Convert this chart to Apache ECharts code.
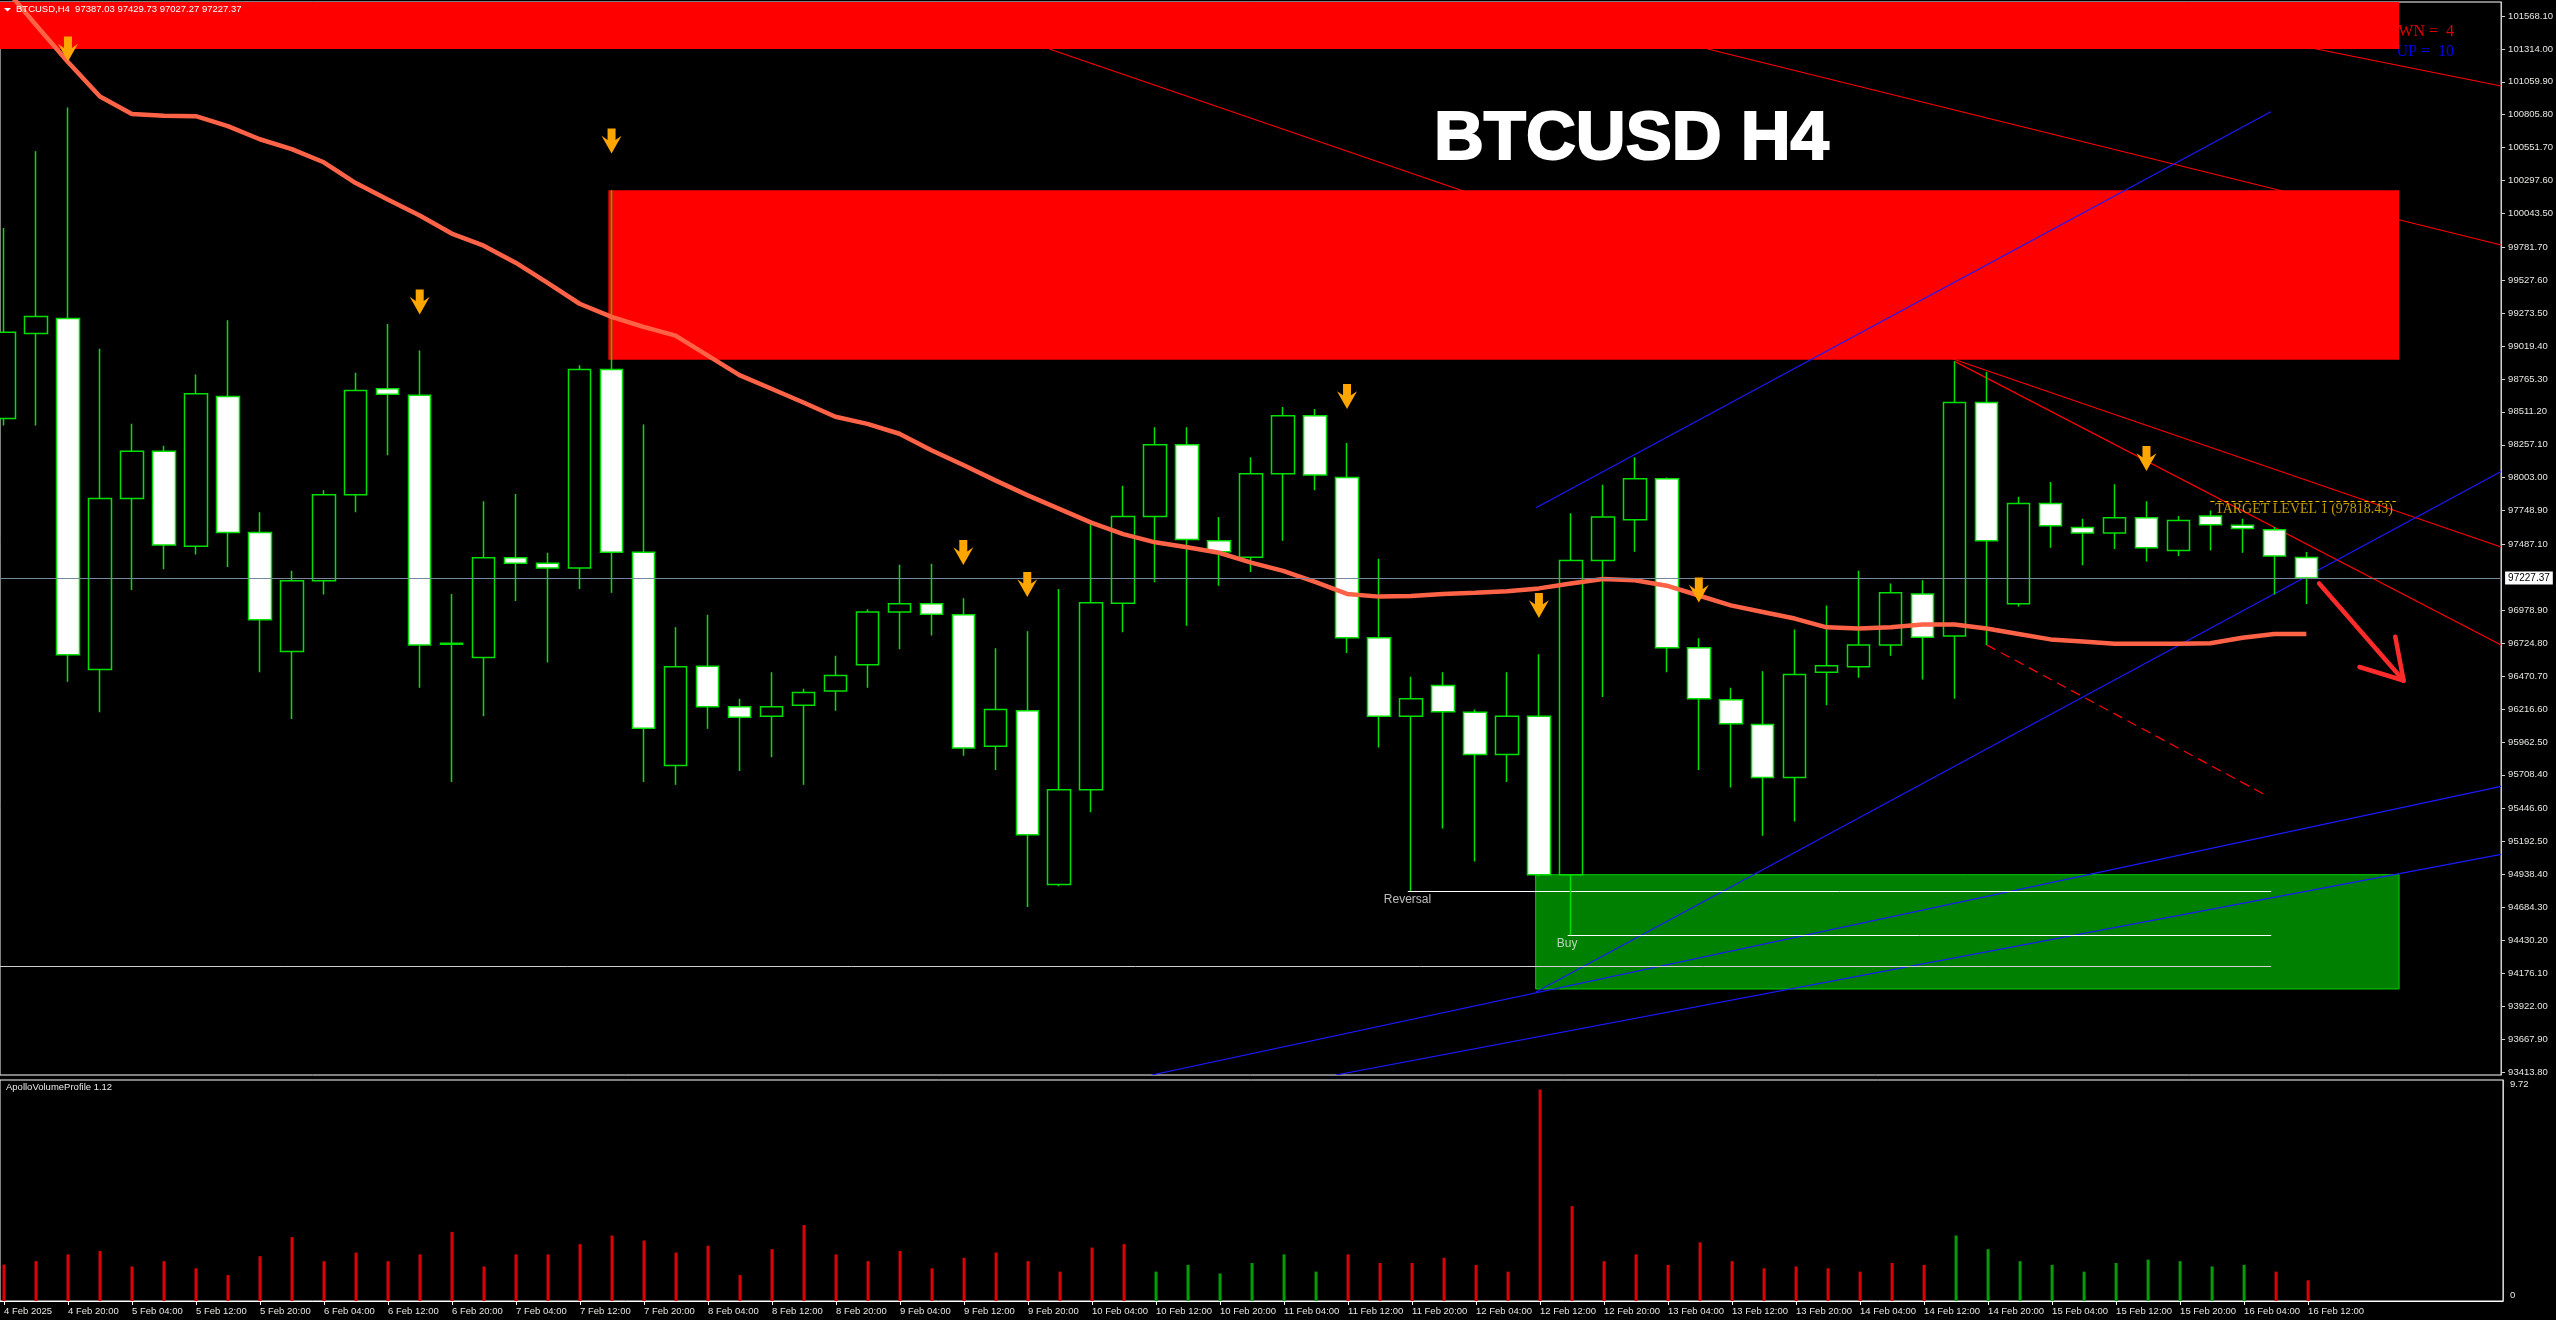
<!DOCTYPE html>
<html>
<head>
<meta charset="utf-8">
<script src="https://cdn.jsdelivr.net/npm/echarts@6/dist/echarts.min.js"></script>
<style>
html,body{margin:0;padding:0;background:#000;}
#c{width:2556px;height:1320px;}
</style>
</head>
<body>
<div id="c"></div>
<script>
// ---------- DATA ----------
// candle index 0 = 4 Feb 2025 12:00, one candle per 4 hours
const openP = [98460.8, 99117.2, 99231.6, 96521.2, 97842.5, 98206.7, 97474.0, 98630.2, 97579.9, 96660.9,
  97207.2, 97872.1, 98689.5, 98638.7, 96716.0, 96614.3, 97385.1, 97342.8, 97304.6, 98837.7,
  97427.5, 95780.0, 96546.6, 96233.2, 96161.2, 96245.9, 96356.0, 96559.3, 96965.8, 97029.4,
  96944.7, 95928.3, 96203.5, 94861.1, 95593.7, 97033.6, 97702.7, 98257.5, 97516.4, 97389.3,
  98033.1, 98482.0, 98003.4, 96766.8, 96161.2, 96398.4, 96190.8, 95864.8, 96161.2, 94937.3,
  97363.9, 97677.3, 97995.0, 96690.6, 96288.2, 96097.7, 95686.9, 96500.0, 96542.3, 96711.8,
  97105.6, 96779.5, 98583.6, 97029.4, 97804.4, 97618.0, 97575.7, 97694.3, 97440.2, 97707.0,
  97635.0, 97601.1, 97387.03];
const highP = [99930.3, 100523.3, 100862.0, 98998.6, 98418.5, 98249.1, 98799.6, 99218.9, 97736.6, 97283.5,
  97906.0, 98812.3, 99189.2, 98985.9, 97105.6, 97821.3, 97876.4, 97423.2, 98871.6, 100222.6,
  98414.2, 96847.3, 96944.7, 96296.7, 96500.0, 96372.9, 96627.0, 96987.0, 97330.1, 97338.5,
  97071.8, 96686.3, 96817.6, 97143.7, 97651.9, 97939.9, 98393.0, 98393.0, 97698.5, 98160.1,
  98549.7, 98532.8, 98270.2, 97376.6, 96466.1, 96500.0, 96212.0, 96500.0, 96639.8, 97728.1,
  97948.4, 98160.1, 98003.4, 96762.6, 96381.4, 96508.5, 96830.3, 97016.7, 97283.5, 97186.1,
  97211.5, 98901.2, 98820.8, 97855.2, 97969.5, 97685.8, 97952.6, 97821.3, 97707.0, 97749.3,
  97685.8, 97622.3, 97429.73];
const lowP = [98405.8, 98405.8, 96428.0, 96190.8, 97135.2, 97296.2, 97410.5, 97313.1, 96500.0, 96140.0,
  97101.4, 97736.6, 98177.1, 96381.4, 95653.0, 96161.2, 97050.5, 96576.2, 97143.7, 97114.1,
  95653.0, 95631.8, 96063.8, 95737.7, 95843.6, 95631.8, 96203.5, 96381.4, 96677.9, 96783.8,
  95856.3, 95746.2, 94687.4, 94848.3, 95420.1, 96809.2, 97194.5, 96860.0, 97169.1, 97275.0,
  97516.4, 97906.0, 96648.2, 95919.8, 94811.0, 95293.0, 95038.9, 95653.0, 94924.6, 94472.0,
  96309.4, 97431.7, 96500.0, 95746.2, 95610.6, 95238.0, 95348.1, 96245.9, 96457.6, 96627.0,
  96444.9, 96296.7, 96711.8, 97008.2, 97461.3, 97325.8, 97452.9, 97355.5, 97397.8, 97440.2,
  97423.2, 97101.4, 97027.27];
const closeP = [99125.7, 99248.5, 96635.5, 97842.5, 98206.7, 97482.5, 98651.4, 97579.9, 96906.6, 97207.2,
  97872.1, 98676.8, 98647.1, 96711.8, 96724.5, 97385.1, 97342.8, 97304.6, 98837.7, 97427.5,
  96068.0, 96542.3, 96233.2, 96152.7, 96233.2, 96343.3, 96474.6, 96965.8, 97029.4, 96948.9,
  95915.6, 96212.0, 95246.4, 95593.7, 97037.8, 97702.7, 98257.5, 97524.9, 97431.7, 98033.1,
  98482.0, 98024.6, 96766.8, 96161.2, 96296.7, 96195.1, 95864.8, 96161.2, 94937.3, 97363.9,
  97698.5, 97995.0, 96690.6, 96296.7, 96101.9, 95686.9, 96483.1, 96550.8, 96711.8, 97114.1,
  96771.0, 98583.6, 97516.4, 97804.4, 97630.8, 97575.7, 97694.3, 97461.3, 97673.1, 97639.2,
  97609.6, 97397.8, 97227.37];
const maValues = [101792, 101498.6, 101212.8, 100946.7, 100811.2, 100798.5, 100794.3, 100718.1, 100616.4, 100540.2,
  100438.6, 100277.6, 100150.6, 100027.8, 99888.0, 99794.8, 99663.5, 99506.9, 99346.0, 99244.3,
  99168.1, 99100.3, 98947.9, 98795.4, 98689.5, 98583.6, 98473.5, 98418.5, 98342.3, 98215.2,
  98100.9, 97982.3, 97868.0, 97762.1, 97656.2, 97567.4, 97503.8, 97465.6, 97423.2, 97347.0,
  97283.5, 97198.8, 97105.6, 97084.5, 97088.7, 97105.6, 97114.1, 97126.8, 97148.0, 97186.1,
  97219.9, 97211.5, 97169.1, 97093.0, 97016.7, 96966.0, 96915.1, 96847.3, 96838.8, 96847.3,
  96868.6, 96868.6, 96838.8, 96796.5, 96754.1, 96737.2, 96720.3, 96720.3, 96720.3, 96724.5,
  96766.8, 96796.5, 96796.5];
const volumes = [1.6, 1.75, 2.05, 2.2, 1.52, 1.75, 1.44, 1.14, 1.97, 2.81,
  1.75, 2.13, 1.75, 2.05, 3.04, 1.52, 2.05, 2.05, 2.5, 2.88,
  2.66, 2.13, 2.43, 1.14, 2.28, 3.34, 2.05, 1.75, 2.2, 1.44,
  1.9, 2.13, 1.75, 1.29, 2.35, 2.5, 1.29, 1.59, 1.21, 1.67,
  2.05, 1.29, 2.05, 1.67, 1.67, 1.9, 1.59, 1.29, 9.3, 4.17,
  1.75, 2.05, 1.59, 2.58, 1.75, 1.44, 1.52, 1.44, 1.29, 1.67,
  1.59, 2.88, 2.28, 1.75, 1.59, 1.29, 1.67, 1.82, 1.75, 1.52,
  1.59, 1.29, 0.91];
// +1 = green volume bar, -1 = red volume bar
const volumeSide = [-1,-1,-1,-1,-1,-1,-1,-1,-1,-1, -1,-1,-1,-1,-1,-1,-1,-1,-1,-1,
  -1,-1,-1,-1,-1,-1,-1,-1,-1,-1, -1,-1,-1,-1,-1,-1, 1,1,1,1, 1,1,
  -1,-1,-1,-1,-1,-1,-1,-1,-1,-1, -1,-1,-1,-1,-1,-1,-1,-1,-1,
  1,1,1,1,1,1,1,1,1,1, -1,-1];
const xTickIndex = [0,2,4,6,8,10,12,14,16,18,20,22,24,26,28,30,32,34,36,38,40,42,44,46,48,50,52,54,56,58,60,62,64,66,68,70,72];
const xTickLabels = ['4 Feb 2025','4 Feb 20:00','5 Feb 04:00','5 Feb 12:00','5 Feb 20:00','6 Feb 04:00','6 Feb 12:00','6 Feb 20:00',
  '7 Feb 04:00','7 Feb 12:00','7 Feb 20:00','8 Feb 04:00','8 Feb 12:00','8 Feb 20:00','9 Feb 04:00','9 Feb 12:00','9 Feb 20:00',
  '10 Feb 04:00','10 Feb 12:00','10 Feb 20:00','11 Feb 04:00','11 Feb 12:00','11 Feb 20:00','12 Feb 04:00','12 Feb 12:00','12 Feb 20:00',
  '13 Feb 04:00','13 Feb 12:00','13 Feb 20:00','14 Feb 04:00','14 Feb 12:00','14 Feb 20:00','15 Feb 04:00','15 Feb 12:00','15 Feb 20:00',
  '16 Feb 04:00','16 Feb 12:00'];
const priceTicks = [101568.10, 101314.00, 101059.90, 100805.80, 100551.70, 100297.60, 100043.50, 99781.70, 99527.60, 99273.50,
  99019.40, 98765.30, 98511.20, 98257.10, 98003.00, 97748.90, 97487.10, 96978.90, 96724.80, 96470.70, 96216.60,
  95962.50, 95708.40, 95446.60, 95192.50, 94938.40, 94684.30, 94430.20, 94176.10, 93922.00, 93667.90, 93413.80];
const volumeTicks = [0, 9.72];
const currentPrice = 97227.37;
const targetPrice = 97818.43;
const sellArrowIdx = [2, 13, 19, 30, 32, 42, 48, 53, 67];
const sellArrowPrice = [101313, 99359.6, 100602.8, 97425, 97178, 98630.6, 97016.7, 97135, 98151.8];
// zones: [xStart, xEnd, priceLow, priceHigh]
const zoneTopRed = [-0.125, 74.9, 101313.2, 101676.2];
const zoneSupply = [18.9, 74.9, 98913.0, 100222.6];
const zoneDemand = [47.9, 74.9, 94054.6, 94937.2];
// drawn lines: [[x1, price1], [x2, price2]]
const redLines = [
  [[64.97, 101676.2], [78.09, 101027.5]],
  [[32.69, 101313.2], [78.09, 97467.6]],
  [[61.0, 98901.2], [78.09, 96710.9]],
  [[53.28, 101313.2], [78.09, 99799.7]]
];
const redDashedLine = [[62.0, 96711.8], [70.78, 95544.9]];
const blueLines = [
  [[47.91, 97770.3], [70.89, 100828.3]],
  [[47.91, 94031.3], [78.09, 98051.4]],
  [[35.89, 93390.4], [78.09, 95618.9]],
  [[41.65, 93390.4], [78.09, 95094.7]]
];
const reversalLine = [[43.9, 94811.0], [70.9, 94811.0]];
const buyLine = [[48.9, 94472.0], [70.9, 94472.0]];
const lowLevelLine = [[-0.125, 94229.0], [70.9, 94229.0]];
const targetLine = [[69.0, targetPrice], [74.8, targetPrice]];
const redArrow = [
  [[72.4, 97185.8], [75.04, 96436.8]],
  [[73.66, 96541.0], [75.04, 96436.8]],
  [[74.78, 96775.0], [75.04, 96436.8]]
];
const annotations = [
  {name: 'Reversal', at: [43.15, 94811.0]},
  {name: 'Buy', at: [48.56, 94472.0]}
];

// ---------- CHART ----------
const X_MIN = -0.125, X_MAX = 78.09;
const Y_MIN = 93390.4, Y_MAX = 101676.2;
const FONT = '"Liberation Sans", Arial, sans-serif';
const SERIF = '"Liberation Serif", "Times New Roman", serif';
const AX = '#e6e6e0';

const candleData = openP.map((o, i) => [i, o, closeP[i], lowP[i], highP[i]]);
const maData = maValues.map((v, i) => [i, v]);
const volData = volumes.map((v, i) => ({value: [i, v], itemStyle: {color: volumeSide[i] > 0 ? '#00a000' : '#e00000'}}));
const arrowData = sellArrowIdx.map((x, k) => [x, sellArrowPrice[k]]);
const zone = (z, color, extra) => [
  {coord: [z[0], z[2]], itemStyle: Object.assign({color: color, opacity: 1}, extra || {})},
  {coord: [z[1], z[3]]}
];
const seg = (c, style) => ({coords: c, lineStyle: Object.assign({opacity: 1, curveness: 0}, style)});

const lineItems = [];
redLines.forEach(l => lineItems.push(seg(l, {color: '#ff0000', width: 1.2})));
lineItems.push(seg(redDashedLine, {color: '#ff0000', width: 1.2, type: [10, 6]}));
blueLines.forEach(l => lineItems.push(seg(l, {color: '#1a1aff', width: 1.2})));
lineItems.push(seg(lowLevelLine, {color: '#d0d0d0', width: 1}));
lineItems.push(seg(reversalLine, {color: '#ffffff', width: 1}));
lineItems.push(seg(buyLine, {color: '#ffffff', width: 1}));
lineItems.push(seg(targetLine, {color: '#f0c000', width: 1, type: [4, 3]}));
redArrow.forEach(l => lineItems.push(seg(l, {color: '#ff2a2a', width: 4.5, cap: 'round'})));

const chart = echarts.init(document.getElementById('c'), null, {renderer: 'canvas', width: 2556, height: 1320});
const option = {
  backgroundColor: '#000',
  animation: false,
  textStyle: {fontFamily: FONT},
  grid: [
    {left: 0, right: 53, top: 2, height: 1073, show: true, borderColor: '#ffffff', borderWidth: 1},
    {left: 0, right: 53, top: 1080, height: 221, show: true, borderColor: '#ffffff', borderWidth: 1}
  ],
  xAxis: [
    {type: 'value', gridIndex: 0, min: X_MIN, max: X_MAX, show: false},
    {type: 'value', gridIndex: 1, min: X_MIN, max: X_MAX,
      splitLine: {show: false},
      axisLine: {show: true, onZero: false, lineStyle: {color: '#ffffff'}},
      axisTick: {show: true, customValues: xTickIndex, length: 4, lineStyle: {color: '#ffffff'}},
      axisLabel: {show: true, customValues: xTickIndex, color: AX, fontSize: 9.5, align: 'left', margin: 5,
        formatter: v => { const k = xTickIndex.indexOf(Math.round(v)); return k >= 0 ? xTickLabels[k] : ''; }}}
  ],
  yAxis: [
    {type: 'value', gridIndex: 0, position: 'right', min: Y_MIN, max: Y_MAX,
      splitLine: {show: false},
      axisLine: {show: true, onZero: false, lineStyle: {color: '#d0d0d0'}},
      axisTick: {show: true, customValues: priceTicks, length: 4, lineStyle: {color: '#d0d0d0'}},
      axisLabel: {show: true, customValues: priceTicks, color: AX, fontSize: 9.5, margin: 7,
        formatter: v => v.toFixed(2)}},
    {type: 'value', gridIndex: 1, position: 'right', min: 0, max: 9.72,
      splitLine: {show: false},
      axisLine: {show: true, onZero: false, lineStyle: {color: '#d0d0d0'}},
      axisTick: {show: false},
      axisLabel: {show: true, customValues: volumeTicks, color: AX, fontSize: 9.5, margin: 7,
        formatter: v => v > 0 ? '{t|' + v + '}' : '{b|' + v + '}',
        rich: {t: {padding: [9, 0, 0, 0], color: AX, fontSize: 9.5}, b: {padding: [0, 0, 11, 0], color: AX, fontSize: 9.5}}}}
  ],
  title: {
    text: 'BTCUSD H4', left: 1429, top: 100,
    textStyle: {color: '#ffffff', fontSize: 69, fontWeight: 'bold', fontFamily: FONT,
      textBorderColor: '#ffffff', textBorderWidth: 2}
  },
  graphic: [
    {type: 'text', x: 2454, y: 31.5, z: 0,
      style: {text: 'DWN =  4', fill: '#e00000', font: '16px ' + SERIF, align: 'right', textAlign: 'right', verticalAlign: 'middle', textVerticalAlign: 'middle'}},
    {type: 'text', x: 2454, y: 51.5, z: 0,
      style: {text: 'UP =  10', fill: '#0000ee', font: '16px ' + SERIF, align: 'right', textAlign: 'right', verticalAlign: 'middle', textVerticalAlign: 'middle'}},
    {type: 'polygon', z: 100, shape: {points: [[4, 8], [11, 8], [7.5, 11.5]]}, style: {fill: '#ffffff'}},
    {type: 'text', x: 16, y: 9.5, z: 100,
      style: {text: 'BTCUSD,H4  97387.03 97429.73 97027.27 97227.37', fill: '#ffffff', font: '9.5px ' + FONT, verticalAlign: 'middle', textVerticalAlign: 'middle'}},
    {type: 'text', x: 6, y: 1087, z: 100,
      style: {text: 'ApolloVolumeProfile 1.12', fill: '#e8e8e8', font: '9.5px ' + FONT, verticalAlign: 'middle', textVerticalAlign: 'middle'}}
  ],
  series: [
    {
      name: 'zones', type: 'line', xAxisIndex: 0, yAxisIndex: 0, data: [], z: 1, silent: true,
      markArea: {silent: true, data: [
        zone(zoneTopRed, '#ff0000'),
        zone(zoneSupply, '#ff0000'),
        zone(zoneDemand, '#008000', {borderColor: '#00d000', borderWidth: 1})
      ]}
    },
    {
      name: 'drawings', type: 'lines', coordinateSystem: 'cartesian2d', xAxisIndex: 0, yAxisIndex: 0,
      z: 2, silent: true, polyline: false, clip: true, symbol: ['none', 'none'],
      lineStyle: {opacity: 1},
      data: lineItems
    },
    {
      name: 'BTCUSD', type: 'candlestick', xAxisIndex: 0, yAxisIndex: 0, z: 3,
      encode: {x: 0, y: [1, 2, 3, 4]},
      barWidth: 23,
      itemStyle: {color: '#000000', color0: '#ffffff', borderColor: '#00e000', borderColor0: '#00e000', borderColorDoji: '#00e000', borderWidth: 1.5},
      data: candleData,
      markLine: {
        silent: true, symbol: ['none', 'none'],
        lineStyle: {color: '#778899', width: 1, type: 'solid'},
        label: {show: true, position: 'end', distance: 4, formatter: currentPrice.toFixed(2),
          backgroundColor: '#ffffff', color: '#000000', fontSize: 10, padding: [2, 3, 1, 3], fontFamily: FONT},
        data: [{yAxis: currentPrice}]
      }
    },
    {
      name: 'MA', type: 'line', xAxisIndex: 0, yAxisIndex: 0, z: 4, showSymbol: false, clip: true,
      lineStyle: {color: '#ff6347', width: 4.5}, data: maData
    },
    {
      name: 'sell', type: 'scatter', xAxisIndex: 0, yAxisIndex: 0, z: 5,
      symbol: 'path://M6,0L14,0L14,11L20,7L10,24L0,7L6,11Z', symbolSize: [20, 25],
      itemStyle: {color: '#ffa500', opacity: 1}, data: arrowData
    },
    {
      name: 'labels', type: 'scatter', xAxisIndex: 0, yAxisIndex: 0, z: 6, symbolSize: 0, silent: true,
      data: annotations.map(a => ({value: a.at, name: a.name})).concat([{value: [69.15, targetPrice], name: 'TARGET LEVEL 1 (' + targetPrice.toFixed(2) + ')',
        label: {color: '#f0c000', fontFamily: SERIF, fontSize: 14, position: [0, 1]}}]),
      label: {show: true, formatter: p => p.name, position: [0, 3], align: 'left', verticalAlign: 'top', color: '#e8e8e8', fontSize: 12, fontFamily: FONT}
    },
    {
      name: 'Volume', type: 'bar', xAxisIndex: 1, yAxisIndex: 1, barWidth: 3, data: volData
    }
  ]
};
chart.setOption(option);
</script>
</body>
</html>
